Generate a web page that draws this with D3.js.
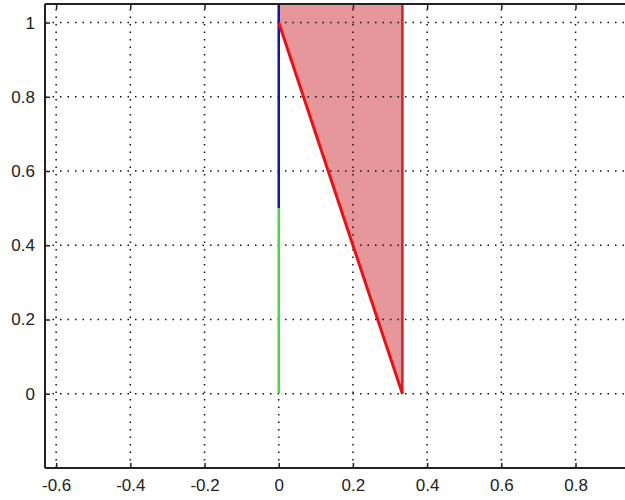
<!DOCTYPE html>
<html>
<head>
<meta charset="utf-8">
<script src="https://cdn.jsdelivr.net/npm/d3@7"></script>
<style>
  body { margin: 0; background: #fff; }
  text { font-family: "Liberation Sans", Arial, sans-serif; }
</style>
</head>
<body>
<div id="chart"></div>
<script>
// chart size
const width = 625;
const height = 500;

// data
const xTicks = [-0.6, -0.4, -0.2, 0, 0.2, 0.4, 0.6, 0.8];
const yTicks = [0, 0.2, 0.4, 0.6, 0.8, 1];
const xDomain = [-0.63, 0.96];
const yDomain = [-0.2, 1.05];

// shaded region (polygon) and line pieces
const shadeX = [0, 1 / 3, 1 / 3, 0];
const shadeY = [1.05, 1.05, 0, 1];
const redLineX = [0, 1 / 3];
const redLineY = [1, 0];
const wallX = [1 / 3, 1 / 3];
const wallY = [0, 1.05];
const blueX = [0, 0];
const blueY = [0.5, 1.05];
const greenX = [0, 0];
const greenY = [0, 0.5];

const padLeft = 45, padTop = 4, padBottom = 468;
const x = d3.scaleLinear().domain(xDomain).range([padLeft, padLeft + (xDomain[1] - xDomain[0]) * 371]);
const y = d3.scaleLinear().domain(yDomain).range([padBottom, padTop]);

const svg = d3.select("#chart")
    .append("svg")
    .attr("width", width)
    .attr("height", height)
    .style("background-color", "#ffffff");

const line = d3.line().x(d => x(d[0])).y(d => y(d[1]));
const pts = (xs, ys) => xs.map((v, i) => [v, ys[i]]);

// fill under the grid
svg.append("path")
    .attr("d", line(pts(shadeX, shadeY)) + "Z")
    .attr("fill", "#e6979b")
    .attr("stroke", "none");

// dotted grid
const grid = svg.append("g")
    .attr("stroke", "#111")
    .attr("stroke-width", 1.5)
    .attr("stroke-dasharray", "1.5,6");

grid.selectAll(".gx")
    .data(xTicks)
    .enter().append("line")
    .attr("x1", d => x(d)).attr("x2", d => x(d))
    .attr("y1", y(yDomain[0])).attr("y2", y(yDomain[1]));

grid.selectAll(".gy")
    .data(yTicks)
    .enter().append("line")
    .attr("x1", x(xDomain[0])).attr("x2", x(xDomain[1]))
    .attr("y1", d => y(d)).attr("y2", d => y(d));

// lines
svg.append("path")
    .attr("d", line(pts(greenX, greenY)))
    .attr("stroke", "#3ee03e").attr("stroke-width", 2.5).attr("fill", "none");

svg.append("path")
    .attr("d", line(pts(blueX, blueY)))
    .attr("stroke", "#1414b4").attr("stroke-width", 2.5).attr("fill", "none");

svg.append("path")
    .attr("d", line(pts(wallX, wallY)))
    .attr("stroke", "#c3262c").attr("stroke-width", 2.5).attr("fill", "none");

svg.append("path")
    .attr("d", line(pts(redLineX, redLineY)))
    .attr("stroke", "#ee1010").attr("stroke-width", 3).attr("fill", "none");

// axes (ticks inside)
const fmt = d => String(d);
const xAxis = svg.append("g")
    .attr("transform", `translate(0,${padBottom})`)
    .call(d3.axisBottom(x).tickValues(xTicks).tickSize(-5).tickPadding(11).tickFormat(fmt));

const xTop = svg.append("g")
    .attr("transform", `translate(0,${padTop})`)
    .call(d3.axisTop(x).tickValues(xTicks).tickSize(-5).tickFormat(""));

const yAxis = svg.append("g")
    .attr("transform", `translate(${padLeft},0)`)
    .call(d3.axisLeft(y).tickValues(yTicks).tickSize(-5).tickPadding(10).tickFormat(fmt));

[xAxis, xTop, yAxis].forEach(g => {
  g.attr("font-size", 17);
  g.select(".domain").attr("stroke", "#222").attr("stroke-width", 2);
  g.selectAll(".tick line").attr("stroke", "#222").attr("stroke-width", 1.5);
  g.selectAll("text").attr("fill", "#222").style("font-size", "17px");
});
// borders run across the full width
xTop.select(".domain").attr("d", `M${padLeft},0H${width + 10}`);
xAxis.select(".domain").attr("d", `M${padLeft},0H${width + 10}`);
yAxis.select(".domain").attr("d", `M0,${padTop}V${padBottom}`);
</script>
</body>
</html>
